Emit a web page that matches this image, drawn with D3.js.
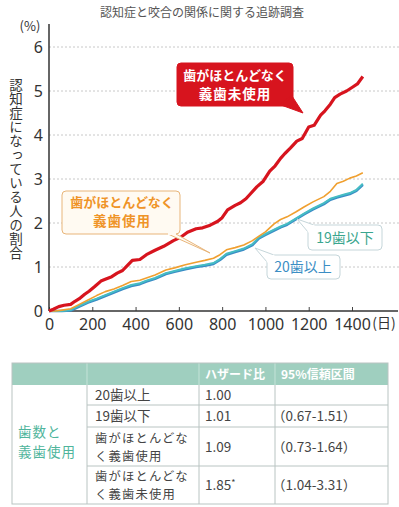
<!DOCTYPE html>
<html>
<head>
<meta charset="utf-8">
<script src="https://cdn.jsdelivr.net/npm/d3@7"></script>
<style>
  body { margin: 0; background: #fff; }
  svg { display: block; font-family: "Noto Sans CJK JP", "Noto Sans", sans-serif; }
</style>
</head>
<body>
<svg id="vis"></svg>
<script>
// 歯がほとんどなく義歯未使用
var redDays = [0, 20, 45, 70, 100, 120, 140, 165, 185, 210, 240, 260, 290, 315, 340, 365, 385, 420, 450, 490, 530, 575, 610, 640, 680, 710, 745, 780, 800, 825, 860, 885, 910, 930, 960, 990, 1020, 1045, 1070, 1090, 1115, 1145, 1170, 1200, 1225, 1255, 1275, 1300, 1320, 1345, 1375, 1400, 1425, 1450];
var redValues = [0, 0.04, 0.10, 0.13, 0.15, 0.22, 0.28, 0.38, 0.45, 0.55, 0.68, 0.72, 0.78, 0.86, 0.92, 1.05, 1.15, 1.17, 1.28, 1.38, 1.47, 1.60, 1.68, 1.79, 1.87, 1.89, 1.95, 2.04, 2.12, 2.30, 2.40, 2.46, 2.55, 2.66, 2.82, 2.95, 3.18, 3.30, 3.47, 3.58, 3.70, 3.86, 3.92, 4.18, 4.22, 4.45, 4.55, 4.70, 4.85, 4.93, 5.00, 5.08, 5.16, 5.33];

// 歯がほとんどなく義歯使用
var orangeDays = [0, 30, 60, 100, 140, 180, 220, 260, 300, 340, 380, 420, 450, 490, 540, 580, 630, 680, 720, 760, 790, 820, 860, 900, 940, 970, 1000, 1040, 1070, 1100, 1140, 1180, 1220, 1270, 1300, 1330, 1360, 1390, 1420, 1450];
var orangeValues = [0, 0, 0.02, 0.05, 0.15, 0.25, 0.35, 0.44, 0.50, 0.58, 0.67, 0.70, 0.75, 0.82, 0.93, 0.98, 1.05, 1.11, 1.15, 1.20, 1.28, 1.39, 1.44, 1.50, 1.60, 1.70, 1.80, 1.98, 2.08, 2.14, 2.25, 2.37, 2.48, 2.60, 2.72, 2.90, 2.95, 3.02, 3.07, 3.14];

// 19歯以下 / 20歯以上
var teethDays = [0, 30, 60, 100, 140, 180, 220, 260, 300, 340, 380, 420, 450, 490, 540, 580, 630, 680, 720, 760, 790, 820, 860, 900, 940, 970, 1000, 1040, 1070, 1100, 1140, 1180, 1220, 1270, 1300, 1330, 1360, 1390, 1420, 1450];
var lessValues = [0, 0, 0, 0.02, 0.12, 0.21, 0.28, 0.36, 0.44, 0.52, 0.59, 0.63, 0.69, 0.75, 0.86, 0.91, 0.97, 1.02, 1.05, 1.09, 1.18, 1.30, 1.36, 1.42, 1.52, 1.67, 1.75, 1.85, 1.92, 1.98, 2.10, 2.22, 2.33, 2.45, 2.55, 2.60, 2.64, 2.68, 2.75, 2.89];
var moreValues = [0, 0, 0, 0.01, 0.10, 0.19, 0.26, 0.34, 0.42, 0.50, 0.57, 0.61, 0.67, 0.73, 0.84, 0.89, 0.95, 1.00, 1.03, 1.07, 1.16, 1.28, 1.34, 1.40, 1.50, 1.65, 1.73, 1.83, 1.90, 1.96, 2.08, 2.20, 2.31, 2.43, 2.53, 2.58, 2.62, 2.66, 2.73, 2.87];

var xTicks = [0, 200, 400, 600, 800, 1000, 1200, 1400];
var yTicks = [0, 1, 2, 3, 4, 5, 6];
var yLabel = "認知症になっている人の割合";

// table
var tableHeader = ["", "", "ハザード比", "95%信頼区間"];
var groupLabel = ["歯数と", "義歯使用"];
var rowLabels = [["20歯以上"], ["19歯以下"], ["歯がほとんどな", "く義歯使用"], ["歯がほとんどな", "く義歯未使用"]];
var hazardRatios = ["1.00", "1.01", "1.09", "1.85"];
var hazardMarks = ["", "", "", "*"];
var confIntervals = ["", "（0.67-1.51）", "（0.73-1.64）", "（1.04-3.31）"];

var svg = d3.select("#vis").attr("width", 399).attr("height", 507);

var x = d3.scaleLinear().domain([0, 1400]).range([49, 352]);
var y = d3.scaleLinear().domain([0, 6]).range([311, 47]);

// title
svg.append("text")
    .attr("x", 202).attr("y", 17)
    .attr("text-anchor", "middle")
    .attr("font-size", 12)
    .attr("fill", "#555")
    .text("認知症と咬合の関係に関する追跡調査");

// grid
svg.selectAll(".grid")
    .data(yTicks.slice(1))
    .enter().append("line")
    .attr("class", "grid")
    .attr("x1", 49).attr("x2", 399)
    .attr("y1", function (d) { return y(d); })
    .attr("y2", function (d) { return y(d); })
    .attr("stroke", "#c8c8c8")
    .attr("stroke-dasharray", "2,2");

// axes
var xAxis = svg.append("g")
    .attr("transform", "translate(0,311)")
    .call(d3.axisBottom(x).tickValues(xTicks).tickFormat(d3.format("d")).tickSize(-4).tickPadding(8));
xAxis.select(".domain").remove();
xAxis.selectAll("line").attr("stroke", "#444");
xAxis.selectAll("text").attr("font-size", 16).attr("fill", "#333").attr("font-family", "Noto Sans");

svg.append("line")
    .attr("x1", 49).attr("x2", 398).attr("y1", 311).attr("y2", 311)
    .attr("stroke", "#333").attr("stroke-width", 1.5);

var yAxis = svg.append("g")
    .attr("transform", "translate(49,0)")
    .call(d3.axisLeft(y).tickValues(yTicks).tickFormat(d3.format("d")).tickSize(0).tickPadding(6));
yAxis.select(".domain").remove();
yAxis.selectAll("text").attr("font-size", 16).attr("fill", "#333").attr("font-family", "Noto Sans");

svg.append("line")
    .attr("x1", 49).attr("x2", 49).attr("y1", 24).attr("y2", 311)
    .attr("stroke", "#333").attr("stroke-width", 1.5);

svg.append("text")
    .attr("x", 30).attr("y", 31)
    .attr("text-anchor", "middle")
    .attr("font-size", 13).attr("fill", "#333")
    .text("(%)");

svg.append("text")
    .attr("x", 384).attr("y", 328)
    .attr("text-anchor", "middle")
    .attr("font-size", 14).attr("fill", "#333")
    .text("(日)");

// vertical y label
svg.append("text")
    .attr("x", 16).attr("y", 78)
    .style("writing-mode", "vertical-rl")
    .style("text-orientation", "upright")
    .attr("font-size", 13.5)
    .attr("letter-spacing", 0.5)
    .attr("fill", "#333")
    .text(yLabel);

// lines
function series(days, values) {
    return days.map(function (d, i) { return [d, values[i]]; });
}
var line = d3.line()
    .x(function (d) { return x(d[0]); })
    .y(function (d) { return y(d[1]); });

svg.append("path").datum(series(teethDays, moreValues))
    .attr("d", line).attr("fill", "none")
    .attr("stroke", "#3a8cc6").attr("stroke-width", 2.6).attr("stroke-linejoin", "round");
svg.append("path").datum(series(teethDays, lessValues))
    .attr("d", line).attr("fill", "none")
    .attr("stroke", "#45bcc4").attr("stroke-width", 2).attr("stroke-linejoin", "round");
svg.append("path").datum(series(orangeDays, orangeValues))
    .attr("d", line).attr("fill", "none")
    .attr("stroke", "#f0a030").attr("stroke-width", 1.6).attr("stroke-linejoin", "round");
svg.append("path").datum(series(redDays, redValues))
    .attr("d", line).attr("fill", "none")
    .attr("stroke", "#d7141e").attr("stroke-width", 3.2).attr("stroke-linejoin", "round");

// callouts
function callout(bx, by, bw, bh, tail, fill, stroke) {
    var g = svg.append("g");
    g.append("rect")
        .attr("x", bx).attr("y", by).attr("width", bw).attr("height", bh)
        .attr("rx", 4)
        .attr("fill", fill).attr("stroke", stroke).attr("stroke-width", 1);
    g.append("path")
        .attr("d", "M" + tail[0] + "L" + tail[1] + "L" + tail[2])
        .attr("fill", fill).attr("stroke", stroke).attr("stroke-width", 1);
    g.append("path")
        .attr("d", "M" + tail[0] + "L" + tail[2])
        .attr("stroke", fill).attr("stroke-width", 2);
    return g;
}

var redBox = callout(177, 63, 116, 43, [[281, 105], [303, 113], [292, 96]], "#d7141e", "#d7141e");
redBox.append("text").attr("x", 235).attr("y", 80).attr("text-anchor", "middle")
    .attr("font-size", 13).attr("font-weight", "bold").attr("fill", "#fff").text("歯がほとんどなく");
redBox.append("text").attr("x", 235).attr("y", 99).attr("text-anchor", "middle")
    .attr("font-size", 13.5).attr("font-weight", "bold").attr("letter-spacing", 1).attr("fill", "#fff").text("義歯未使用");

var orangeBox = callout(62, 191, 118, 43, [[168, 234], [210, 253], [176, 234]], "#fffaf2", "#e8b57a");
orangeBox.append("text").attr("x", 122).attr("y", 207).attr("text-anchor", "middle")
    .attr("font-size", 13).attr("font-weight", "bold").attr("fill", "#ef9428").text("歯がほとんどなく");
orangeBox.append("text").attr("x", 122).attr("y", 226).attr("text-anchor", "middle")
    .attr("font-size", 13.5).attr("font-weight", "bold").attr("letter-spacing", 1).attr("fill", "#ef9428").text("義歯使用");

var lessBox = callout(308, 225, 74, 25, [[308, 232], [297, 219], [314, 225]], "#fff", "#c5d6da");
lessBox.append("text").attr("x", 345).attr("y", 243).attr("text-anchor", "middle")
    .attr("font-size", 14).attr("fill", "#3aa68e").text("19歯以下");

var moreBox = callout(267, 255, 73, 24, [[267, 262], [255, 248], [274, 255]], "#fff", "#c5d6da");
moreBox.append("text").attr("x", 303).attr("y", 272).attr("text-anchor", "middle")
    .attr("font-size", 14).attr("fill", "#3b8ec4").text("20歯以上");

// table
var colX = [12, 87, 199, 275, 388];
var rowY = [363, 385, 405, 427, 466, 504];

svg.append("rect")
    .attr("x", colX[0]).attr("y", rowY[0])
    .attr("width", colX[4] - colX[0]).attr("height", rowY[1] - rowY[0])
    .attr("fill", "#9fcfbf");

svg.selectAll(".hdiv")
    .data(colX.slice(1, 4))
    .enter().append("line")
    .attr("x1", function (d) { return d; }).attr("x2", function (d) { return d; })
    .attr("y1", rowY[0]).attr("y2", rowY[1])
    .attr("stroke", "#c4e3d8");

svg.selectAll(".htext")
    .data(tableHeader)
    .enter().append("text")
    .attr("x", function (d, i) { return colX[i] + 6; })
    .attr("y", 379)
    .attr("font-size", 12).attr("font-weight", "bold").attr("fill", "#fff")
    .text(function (d) { return d; });

// borders
var border = "#b9c4c2";
svg.append("rect")
    .attr("x", colX[0]).attr("y", rowY[0])
    .attr("width", colX[4] - colX[0]).attr("height", rowY[5] - rowY[0])
    .attr("fill", "none").attr("stroke", border);
svg.selectAll(".vdiv")
    .data(colX.slice(1, 4))
    .enter().append("line")
    .attr("x1", function (d) { return d; }).attr("x2", function (d) { return d; })
    .attr("y1", rowY[1]).attr("y2", rowY[5])
    .attr("stroke", border);
svg.selectAll(".rdiv")
    .data(rowY.slice(2, 5))
    .enter().append("line")
    .attr("x1", colX[1]).attr("x2", colX[4])
    .attr("y1", function (d) { return d; }).attr("y2", function (d) { return d; })
    .attr("stroke", border);

svg.append("text")
    .attr("font-size", 13.5).attr("fill", "#4fb59c")
    .attr("letter-spacing", 1)
    .selectAll("tspan")
    .data(groupLabel)
    .enter().append("tspan")
    .attr("x", 18)
    .attr("y", function (d, i) { return 437 + i * 20; })
    .text(function (d) { return d; });

rowLabels.forEach(function (lines, r) {
    var mid = (rowY[r + 1] + rowY[r + 2]) / 2;
    var top = mid - (lines.length - 1) * 9;
    svg.append("text")
        .attr("font-size", lines.length > 1 ? 12.3 : 13.5).attr("fill", "#444")
        .attr("letter-spacing", lines.length > 1 ? 1.2 : 0)
        .selectAll("tspan")
        .data(lines)
        .enter().append("tspan")
        .attr("x", 95)
        .attr("y", function (d, k) { return top + k * 18 + 5; })
        .text(function (d) { return d; });
    var hr = svg.append("text")
        .attr("x", 205).attr("y", mid + 5)
        .attr("font-size", 13.5).attr("fill", "#444")
        .text(hazardRatios[r]);
    if (hazardMarks[r]) {
        hr.append("tspan").attr("dy", -4).attr("font-size", 9).text(hazardMarks[r]);
    }
    svg.append("text")
        .attr("x", 272).attr("y", mid + 5)
        .attr("font-size", 13.5).attr("fill", "#444")
        .text(confIntervals[r]);
});
</script>
</body>
</html>
